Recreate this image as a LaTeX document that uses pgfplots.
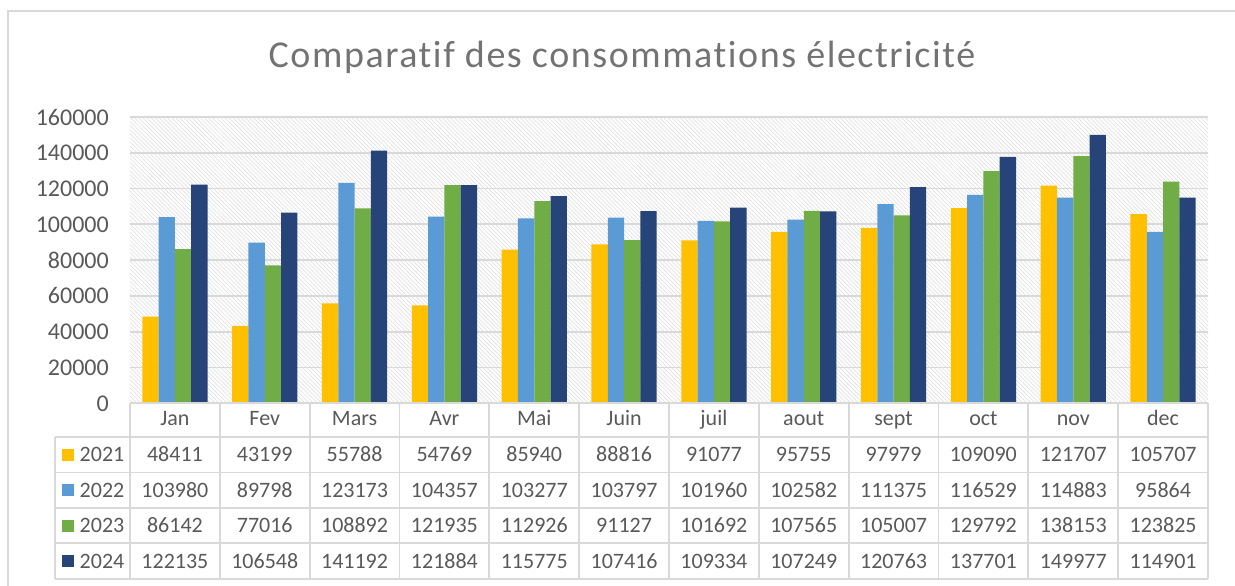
\documentclass[border=0pt]{standalone}
\usepackage{fontspec}
\setmainfont{Carlito}[Ligatures=NoCommon]
\newfontfamily\titlefont[LetterSpace=4.1,Ligatures=NoCommon]{Carlito}
\usepackage{pgfplots}
\usepackage{pgfplotstable}
\pgfplotsset{compat=1.18}
\usetikzlibrary{patterns.meta}
\definecolor{c21}{HTML}{FFC000}
\definecolor{c22}{HTML}{5B9BD5}
\definecolor{c23}{HTML}{70AD47}
\definecolor{c24}{HTML}{264478}
\definecolor{txt}{HTML}{595959}
\definecolor{titlec}{HTML}{737373}
\definecolor{gridc}{HTML}{D9D9D9}
\definecolor{hatchc}{HTML}{E0E0E0}

\pgfplotstableread{
x m y2021 y2022 y2023 y2024
1 Jan 48411 103980 86142 122135
2 Fev 43199 89798 77016 106548
3 Mars 55788 123173 108892 141192
4 Avr 54769 104357 121935 121884
5 Mai 85940 103277 112926 115775
6 Juin 88816 103797 91127 107416
7 juil 91077 101960 101692 109334
8 aout 95755 102582 107565 107249
9 sept 97979 111375 105007 120763
10 oct 109090 116529 129792 137701
11 nov 121707 114883 138153 149977
12 dec 105707 95864 123825 114901
}\data

\begin{document}
\begin{tikzpicture}
\path[use as bounding box] (0,0) rectangle (1235pt,586pt);
\draw[gridc, line width=1.7pt] (8.3pt,0) -- (8.3pt,575pt) -- (1235pt,575pt);
\node[anchor=base, font=\titlefont\fontsize{38}{42}\selectfont, text=titlec, inner sep=0pt] at (622pt,518.3pt) {Comparatif des consommations électricité};
\begin{axis}[
  at={(130pt,182.7pt)}, anchor=south west,
  width=1078pt, height=286.3pt, scale only axis,
  xmin=0.5, xmax=12.5, ymin=0, ymax=160000,
  scaled y ticks=false,
  axis line style={draw=none}, tick style={draw=none},
  ytick={0,20000,...,160000},
  yticklabels={0,20000,40000,60000,80000,100000,120000,140000,160000},
  yticklabel style={anchor=east, inner sep=0pt, xshift=-21pt, font=\fontsize{24}{28}\selectfont, text=txt},
  xtick={1,...,12},
  xticklabels={Jan,Fev,Mars,Avr,Mai,Juin,juil,aout,sept,oct,nov,dec},
  xticklabel style={anchor=base, inner sep=0pt, yshift=-22.7pt, font=\fontsize{22}{26}\selectfont, text=txt},
  ymajorgrids, grid style={gridc, line width=1.8pt},
  axis background/.style={pattern={Lines[angle=-45,distance=2.9pt,line width=0.7pt]}, pattern color=hatchc},
  clip=false,
  tablenum/.style={draw=none, mark=none, forget plot, nodes near coords, point meta=explicit symbolic,
     nodes near coords style={anchor=base, inner sep=0pt, font=\fontsize{22}{26}\selectfont, text=txt}},
]
\addplot[ybar, bar width=16.3pt, bar shift=-24.45pt, fill=c21, draw=none] table[x=x,y=y2021]{\data};
\addplot[ybar, bar width=16.3pt, bar shift=-8.15pt, fill=c22, draw=none] table[x=x,y=y2022]{\data};
\addplot[ybar, bar width=16.3pt, bar shift=8.15pt, fill=c23, draw=none] table[x=x,y=y2023]{\data};
\addplot[ybar, bar width=16.3pt, bar shift=24.45pt, fill=c24, draw=none] table[x=x,y=y2024]{\data};
\addplot[tablenum] table[x=x, y expr=-32637, meta=y2021]{\data};
\addplot[tablenum] table[x=x, y expr=-52476, meta=y2022]{\data};
\addplot[tablenum] table[x=x, y expr=-72315, meta=y2023]{\data};
\addplot[tablenum] table[x=x, y expr=-92154, meta=y2024]{\data};
\end{axis}
% data table grid
\begin{scope}[gridc, line width=1.8pt]
\draw (130pt,182.7pt) -- (1208pt,182.7pt);
\foreach \Y in {149,113.5,78,42.7,7} \draw (55pt,\Y pt) -- (1208pt,\Y pt);
\foreach \k in {0,...,12} \draw ({(130+\k*89.8333)*1pt},182.7pt) -- ({(130+\k*89.8333)*1pt},7pt);
\draw (55pt,149pt) -- (55pt,7pt);
\end{scope}
% legend keys
\foreach \c/\yr/\Y/\C in {c21/2021/124.3/131.25, c22/2022/88.8/95.75, c23/2023/53.3/60.35, c24/2024/17.8/24.85}{
  \fill[\c] (62.3pt,{(\C-6)*1pt}) rectangle (74.3pt,{(\C+6)*1pt});
  \node[anchor=base west, inner sep=0pt, font=\fontsize{22}{26}\selectfont, text=txt] at (79.5pt,\Y pt) {\yr};
}
\end{tikzpicture}
\end{document}
